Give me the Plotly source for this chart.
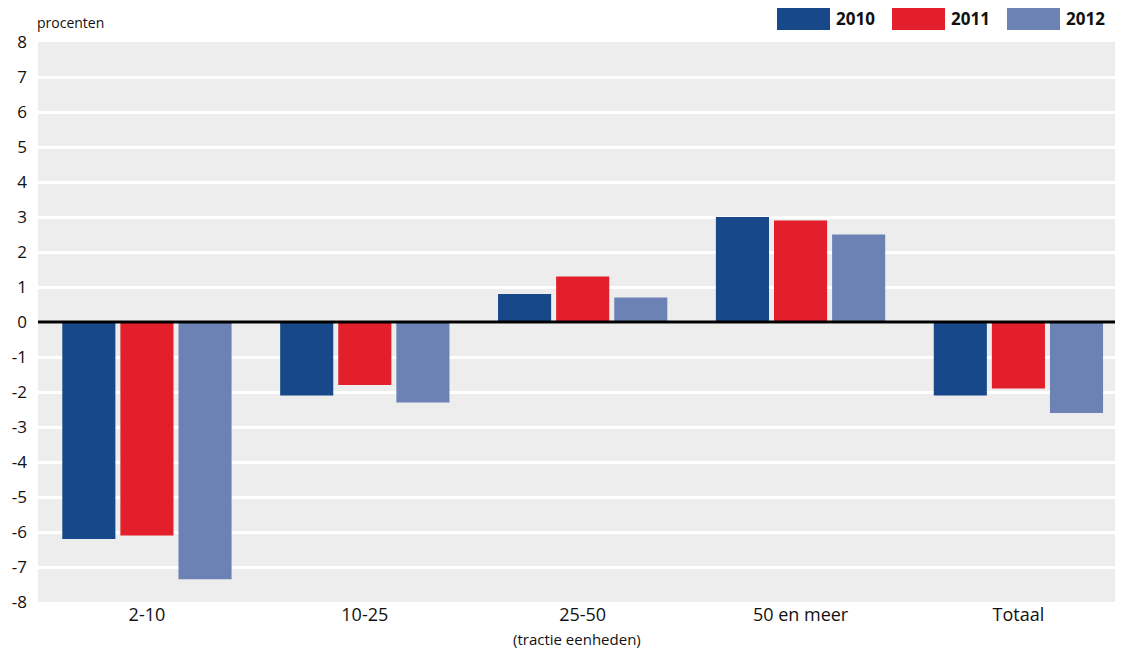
import plotly.graph_objects as go

categories = ["2-10", "10-25", "25-50", "50 en meer", "Totaal"]
years = ["2010", "2011", "2012"]
values_2010 = [-6.2, -2.1, 0.8, 3.0, -2.1]
values_2011 = [-6.1, -1.8, 1.3, 2.9, -1.9]
values_2012 = [-7.35, -2.3, 0.7, 2.5, -2.6]
yticks = list(range(-8, 9))

colors = ["#174889", "#e31f2b", "#6c82b5"]
series = [values_2010, values_2011, values_2012]

FONT = "Open Sans"

fig = go.Figure()
for name, vals, col in zip(years, series, colors):
    fig.add_trace(go.Bar(x=categories, y=vals, name=name, marker=dict(color=col, line=dict(width=0)),
                         showlegend=False))

# page body has an 8px margin: figure spans page x 8..1123, y 8..648
fig.update_layout(
    width=1115, height=640,
    margin=dict(l=30, r=0, t=34, b=46),
    paper_bgcolor="white",
    plot_bgcolor="#ededed",
    barmode="group",
    bargap=0.2,
    bargroupgap=0.086,
    font=dict(family=FONT, color="#111111"),
    xaxis=dict(showgrid=False, tickfont=dict(size=18, family=FONT), ticks="", showline=False,
               range=[-0.5, 4.48]),
    yaxis=dict(range=[-8, 8], tickvals=yticks, ticktext=[str(v) for v in yticks],
               showgrid=True, gridcolor="white", gridwidth=3, zeroline=False,
               tickfont=dict(size=17, family=FONT), ticks="", ticklabelstandoff=10),
)

# zero line above bars
fig.add_shape(type="line", xref="paper", yref="y", x0=0, x1=1, y0=0, y1=0,
              line=dict(color="black", width=2.8), layer="above")

fig.add_annotation(text="procenten", xref="paper", yref="paper", x=0, y=1,
                   xanchor="left", yanchor="bottom", yshift=8, xshift=-3, showarrow=False,
                   font=dict(size=14, family=FONT, color="#111111"))
fig.add_annotation(text="(tractie eenheden)", xref="x", yref="paper", x="25-50", y=0,
                   xanchor="center", yanchor="top", yshift=-25, xshift=-6, showarrow=False,
                   font=dict(size=15, family=FONT, color="#111111"))

# custom legend (positions in page pixels relative to plot area 38..1123 x 42..602)
leg_x = [777, 892, 1007]
for yr, col, lx in zip(years, colors, leg_x):
    fig.add_shape(type="rect", xref="paper", yref="paper",
                  x0=(lx - 38) / 1085, x1=(lx + 53 - 38) / 1085,
                  y0=(602 - 30) / 560, y1=(602 - 8) / 560,
                  fillcolor=col, line=dict(width=0))
    fig.add_annotation(text="<b>" + yr + "</b>", xref="paper", yref="paper",
                       x=(lx + 57 - 38) / 1085, y=(602 - 19) / 560,
                       xanchor="left", yanchor="middle", showarrow=False,
                       font=dict(size=17, family=FONT, color="#111111"))

fig.write_html("out.html")
